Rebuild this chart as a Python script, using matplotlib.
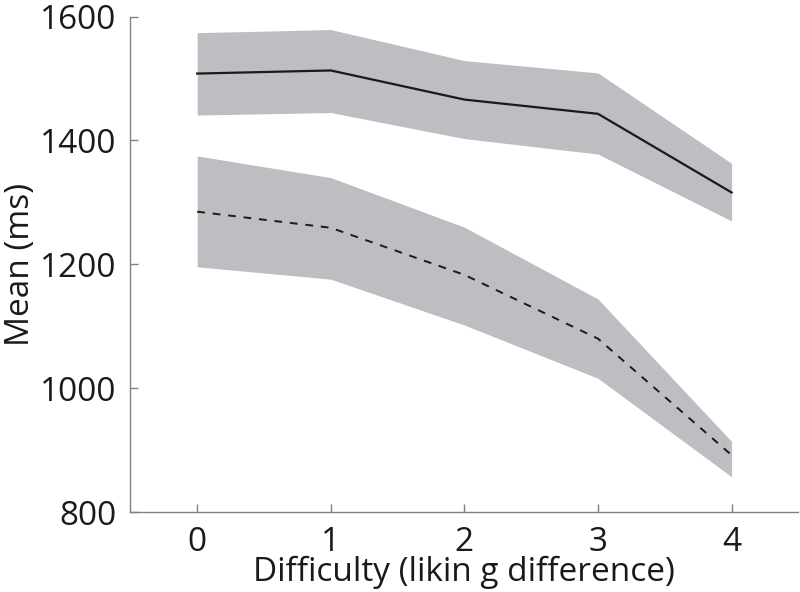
import matplotlib
matplotlib.use("Agg")
import matplotlib.pyplot as plt
import numpy as np

# difficulty levels
difficulty = [0, 1, 2, 3, 4]

# upper condition (solid)
upper_mean = [1508, 1513, 1466, 1443, 1316]
upper_hi = [1574, 1579, 1529, 1509, 1363]
upper_lo = [1441, 1445, 1403, 1378, 1270]

# lower condition (dashed)
lower_mean = [1285, 1259, 1183, 1080, 892]
lower_hi = [1375, 1340, 1260, 1144, 914]
lower_lo = [1196, 1176, 1102, 1016, 857]

yticks = [800, 1000, 1200, 1400, 1600]

plt.rcParams['font.family'] = ['Open Sans', 'DejaVu Sans']

fig = plt.figure(figsize=(8, 5.92), dpi=100)
ax = fig.add_axes([0.163, 0.135, 0.835, 0.837])

band = '#bdbec1'
ax.fill_between(difficulty, upper_lo, upper_hi, color=band, linewidth=0)
ax.fill_between(difficulty, lower_lo, lower_hi, color=band, linewidth=0)
ax.plot(difficulty, upper_mean, color='#1a1a1a', linewidth=1.6)
ax.plot(difficulty, lower_mean, color='#1a1a1a', linewidth=1.4, dashes=(4, 4))

ax.set_xlim(-0.5, 4.5)
ax.set_ylim(800, 1600)
ax.set_xticks(difficulty)
ax.set_yticks(yticks)

for s in ['top', 'right']:
    ax.spines[s].set_visible(False)
for s in ['left', 'bottom']:
    ax.spines[s].set_color('#808080')
    ax.spines[s].set_linewidth(1.0)

ax.tick_params(direction='in', length=6, width=1, color='#808080',
               labelsize=24, labelcolor='#1a1a1a', pad=10)

ax.set_xlabel('Difficulty (likin g difference)', fontsize=24, color='#1a1a1a', labelpad=-2)
ax.set_ylabel('Mean (ms)', fontsize=24, color='#1a1a1a', labelpad=2)

fig.savefig('out.png', dpi=100)
